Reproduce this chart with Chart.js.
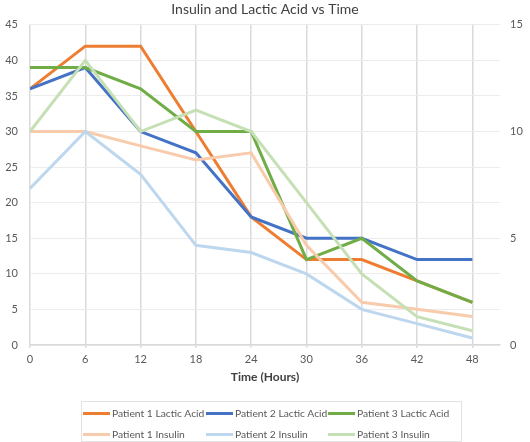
<!DOCTYPE html>
<html>
<head>
<meta charset="utf-8">
<script src="https://cdn.jsdelivr.net/npm/chart.js@4/dist/chart.umd.min.js"></script>
<style>
  body { margin:0; background:#fff; }
  #wrap { position:relative; width:530px; height:442px; }
  #legend { position:absolute; left:81px; top:401px; width:381px; height:41px; box-sizing:border-box;
    border:1px solid #e3e3e3; font-family:Lato, "Liberation Sans", sans-serif; font-size:10.3px; color:#595959; }
  .item { position:absolute; display:flex; align-items:center; white-space:nowrap; }
  .swatch { width:27px; height:3px; margin-right:2px; }
</style>
</head>
<body>
<div id="wrap">
  <canvas id="c" width="530" height="442"></canvas>
  <div id="legend"></div>
</div>
<script>
const times = [0, 6, 12, 18, 24, 30, 36, 42, 48];
const p1Lactic = [36, 42, 42, 30, 18, 12, 12, 9, 6];
const p2Lactic = [36, 39, 30, 27, 18, 15, 15, 12, 12];
const p3Lactic = [39, 39, 36, 30, 30, 12, 15, 9, 6];
const p1Insulin = [10, 10, 9.33, 8.67, 9, 4.67, 2, 1.67, 1.33];
const p2Insulin = [7.33, 10, 8, 4.67, 4.33, 3.33, 1.67, 1, 0.33];
const p3Insulin = [10, 13.33, 10, 11, 10, 6.67, 3.33, 1.33, 0.67];
const seriesNames = ['Patient 1 Lactic Acid','Patient 2 Lactic Acid','Patient 3 Lactic Acid','Patient 1 Insulin','Patient 2 Insulin','Patient 3 Insulin'];
const leftTicks = [0, 5, 10, 15, 20, 25, 30, 35, 40, 45];
const rightTicks = [0, 5, 10, 15];

const colors = ['#ED7D31','#4472C4','#70AD47','#F8CBAD','#BDD7EE','#C5E0B4'];
const allData = [p1Lactic, p2Lactic, p3Lactic, p1Insulin, p2Insulin, p3Insulin];
const axes = ['y','y','y','y2','y2','y2'];

const datasets = allData.map((arr, i) => ({
  label: seriesNames[i],
  data: arr.map((v, k) => ({x: times[k], y: v})),
  borderColor: colors[i],
  backgroundColor: colors[i],
  borderWidth: 3,
  pointRadius: 0,
  tension: 0,
  fill: false,
  yAxisID: axes[i],
  order: 6 - i
}));

const font = {family: 'Lato, "Liberation Sans", sans-serif', size: 11};
Chart.defaults.color = '#595959';

new Chart(document.getElementById('c'), {
  type: 'line',
  data: { datasets },
  options: {
    responsive: false,
    animation: false,
    layout: { padding: { left: 0, right: 0, top: 0, bottom: 52 } },
    plugins: {
      legend: { display: false },
      title: { display: true, text: 'Insulin and Lactic Acid vs Time', color: '#404040',
        font: {family: font.family, size: 14, weight: 'normal'}, padding: {top: 1, bottom: 7} },
      tooltip: { enabled: false }
    },
    scales: {
      x: {
        type: 'linear', min: 0, max: 51,
        afterBuildTicks: s => { s.ticks = times.map(v => ({value: v})); },
        afterFit: s => { s.height = 45; },
        ticks: { font, color: '#595959', padding: 5, maxRotation: 0 },
        grid: { color: '#dadada', lineWidth: 1.5, tickLength: 3 },
        border: { color: '#d9d9d9', width: 1.5 },
        title: { display: true, text: 'Time (Hours)', color: '#404040',
          font: {family: font.family, size: 12, weight: 'bold'}, padding: {top: 0, bottom: 6} }
      },
      y: {
        position: 'left', min: 0, max: 45,
        afterBuildTicks: s => { s.ticks = leftTicks.map(v => ({value: v})); },
        afterFit: s => { s.width = 30; },
        ticks: { font, color: '#595959', padding: 12 },
        grid: { color: '#ececec', lineWidth: 1, drawTicks: false },
        border: { display: false }
      },
      y2: {
        position: 'right', min: 0, max: 15,
        afterBuildTicks: s => { s.ticks = rightTicks.map(v => ({value: v})); },
        afterFit: s => { s.width = 30; },
        ticks: { font, color: '#595959', padding: 10 },
        grid: { drawOnChartArea: false, drawTicks: false },
        border: { display: false }
      }
    }
  }
});

// HTML legend built from series
const legend = document.getElementById('legend');
const colX = [1, 124, 246];
const rowY = [11, 32];
seriesNames.forEach((name, i) => {
  const it = document.createElement('div');
  it.className = 'item';
  it.style.left = colX[i % 3] + 'px';
  it.style.top = (rowY[Math.floor(i / 3)] - 8) + 'px';
  it.style.height = '16px';
  const sw = document.createElement('span');
  sw.className = 'swatch';
  sw.style.background = colors[i];
  const tx = document.createElement('span');
  tx.textContent = name;
  it.appendChild(sw); it.appendChild(tx);
  legend.appendChild(it);
});
</script>
</body>
</html>
